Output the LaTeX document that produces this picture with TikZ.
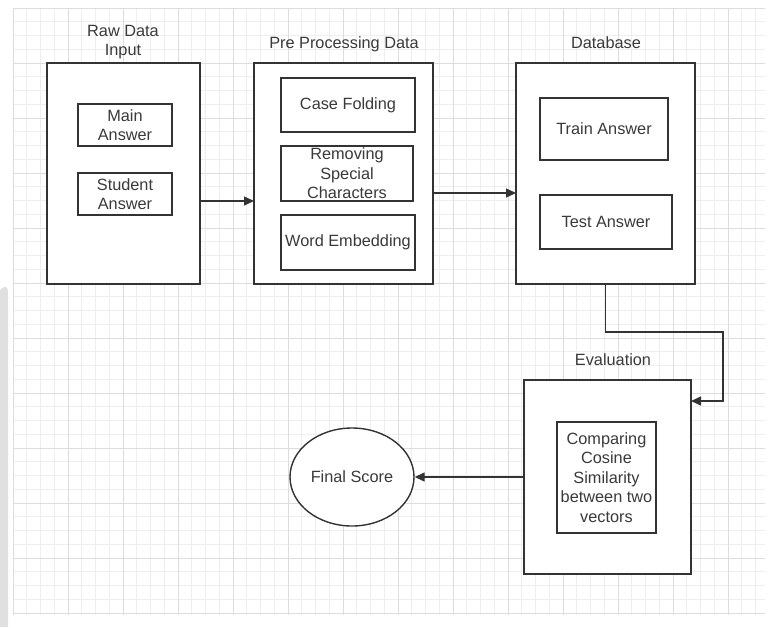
\documentclass[tikz,border=0pt]{standalone}
\usepackage{fontspec}
\setmainfont{Liberation Sans}
\usetikzlibrary{arrows.meta,shapes.geometric}
\definecolor{ink}{HTML}{333333}
\definecolor{txt}{HTML}{3A3A3A}
\definecolor{gridminor}{HTML}{EEEEEE}
\definecolor{gridmajor}{HTML}{DDDDDD}
\tikzset{
  outer/.style={draw=ink, line width=1.6pt, fill=white, inner sep=0pt},
  inner/.style={draw=ink, line width=1.4pt, fill=white, inner sep=0pt, align=center, text=txt},
  title/.style={text=txt, align=center, inner sep=0pt},
  conn/.style={draw=ink, line width=1.4pt, -{Triangle[length=10pt,width=9pt]}},
}
\begin{document}
\begin{tikzpicture}[x=1pt,y=-1pt, font=\fontsize{16.3}{19.5}\selectfont]
\useasboundingbox (0,0) rectangle (773,627);
\fill[white] (0,0) rectangle (773,627);
% grid
\foreach \i in {0,...,54} {\draw[gridminor, line width=0.6pt] (13+13.75*\i,8) -- (13+13.75*\i,615);}
\foreach \j in {0,...,44} {\draw[gridminor, line width=0.6pt] (13,8+13.75*\j) -- (765,8+13.75*\j);}
\foreach \i in {0,...,13} {\draw[gridmajor, line width=0.9pt] (13+55*\i,8) -- (13+55*\i,615);}
\foreach \j in {0,...,11} {\draw[gridmajor, line width=0.9pt] (13,8+55*\j) -- (765,8+55*\j);}
\fill[black!12] (0,290) .. controls (6,285) and (8,285) .. (8,295) -- (8,627) -- (0,627) -- cycle;

% Raw data input
\node[outer, minimum width=153, minimum height=221] (raw) at (123.5,173.5) {};
\node[title] (rawt) at (123,42) {Raw Data\\Input};
\node[inner, minimum width=94, minimum height=42] (main) at (125,125) {Main\\Answer};
\node[inner, minimum width=94, minimum height=42] (stud) at (125,194) {Student\\Answer};

% Pre processing
\node[outer, minimum width=179, minimum height=221] (pre) at (343.5,173.5) {};
\node[title] (pret) at (344,44) {Pre Processing Data};
\node[inner, minimum width=134, minimum height=54] (case) at (348,105) {Case Folding};
\node[inner, minimum width=132, minimum height=55] (rem) at (347,173.5) {Removing\\Special\\Characters};
\node[inner, minimum width=134, minimum height=55] (word) at (348,242.5) {Word Embedding};

% Database
\node[outer, minimum width=179, minimum height=221] (db) at (605.5,173.5) {};
\node[title] (dbt) at (606,43) {Database};
\node[inner, minimum width=128, minimum height=62] (train) at (604,129) {Train Answer};
\node[inner, minimum width=132, minimum height=54] (test) at (606,222) {Test Answer};

% Evaluation
\node[outer, minimum width=167, minimum height=194] (ev) at (607.5,477) {};
\node[title] (evt) at (613,360) {Evaluation};
\node[inner, minimum width=99, minimum height=111] (cmp) at (606.5,477.5) {Comparing\\Cosine\\Similarity\\between two\\vectors};

% Final score
\node[ellipse, draw=ink, line width=1.4pt, fill=white, minimum width=124, minimum height=98, inner sep=0pt, text=txt] (fs) at (352,477) {Final Score};

% connectors
\coordinate (a1) at (200,201);
\coordinate (a2) at (254,201);
\draw[conn] (a1) -- (a2);
\coordinate (b1) at (433,193);
\coordinate (b2) at (516,193);
\draw[conn] (b1) -- (b2);
\coordinate (c1) at (723,332);
\coordinate (evin) at (691,401);
\draw[conn] (db.south) |- (c1) |- (evin);
\draw[conn] (ev.west) -- (fs.east);
\end{tikzpicture}
\end{document}
